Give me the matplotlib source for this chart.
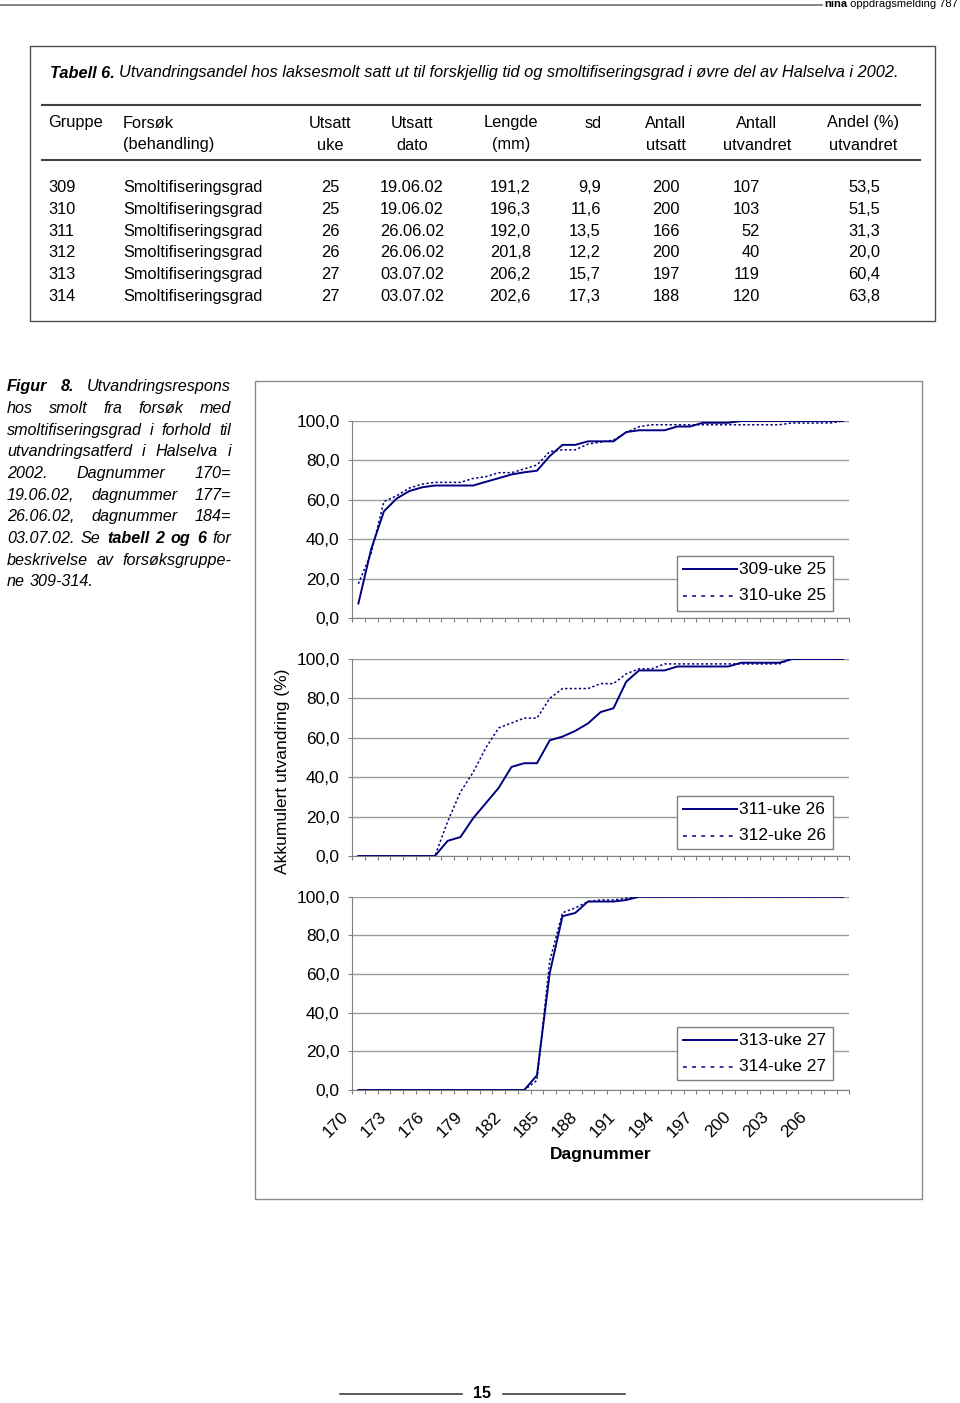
import matplotlib
matplotlib.use("Agg")
import matplotlib.pyplot as plt
import matplotlib.transforms as mtransforms
from matplotlib.patches import Rectangle
from matplotlib.lines import Line2D

plt.rcParams['font.family'] = ['Liberation Sans', 'DejaVu Sans']

W, H = 960, 1403

# ---------------------------------------------------------------
# table 6
# ---------------------------------------------------------------
TITLE_BOLD = "Tabell 6."
TITLE_REST = ("Utvandringsandel hos laksesmolt satt ut til forskjellig tid og "
              "smoltifiseringsgrad i øvre del av Halselva i 2002.")

HEAD_1 = ["Gruppe", "Forsøk", "Utsatt", "Utsatt", "Lengde", "sd", "Antall", "Antall", "Andel (%)"]
HEAD_2 = ["", "(behandling)", "uke", "dato", "(mm)", "", "utsatt", "utvandret", "utvandret"]

GRUPPE = ["309", "310", "311", "312", "313", "314"]
FORSOK = ["Smoltifiseringsgrad"] * 6
UKE = ["25", "25", "26", "26", "27", "27"]
DATO = ["19.06.02", "19.06.02", "26.06.02", "26.06.02", "03.07.02", "03.07.02"]
LENGDE = ["191,2", "196,3", "192,0", "201,8", "206,2", "202,6"]
SD = ["9,9", "11,6", "13,5", "12,2", "15,7", "17,3"]
ANT_UTSATT = ["200", "200", "166", "200", "197", "188"]
ANT_UTVANDRET = ["107", "103", "52", "40", "119", "120"]
ANDEL = ["53,5", "51,5", "31,3", "20,0", "60,4", "63,8"]

# ---------------------------------------------------------------
# figure 8 - cumulative migration (%) per day number
# ---------------------------------------------------------------
DAYS = [170, 171, 172, 173, 174, 175, 176, 177, 178, 179, 180, 181, 182,
        183, 184, 185, 186, 187, 188, 189, 190, 191, 192, 193, 194, 195,
        196, 197, 198, 199, 200, 201, 202, 203, 204, 205, 206, 207, 208]

G309 = [7.5, 35.0, 54.2, 60.7, 64.5, 66.4, 67.3, 67.3, 67.3, 67.3, 69.2, 71.0, 72.9,
        74.0, 74.8, 82.2, 87.9, 87.9, 89.7, 89.7, 89.7, 94.4, 95.3, 95.3, 95.3, 97.2,
        97.2, 99.1, 99.1, 99.1, 100, 100, 100, 100, 100, 100, 100, 100, 100]
G310 = [17.5, 33.0, 59.2, 62.1, 66.0, 68.0, 68.9, 68.9, 68.9, 70.9, 71.8, 73.8, 73.8,
        75.7, 77.7, 84.5, 85.4, 85.4, 88.3, 89.3, 90.3, 94.2, 97.1, 98.1, 98.1, 98.1,
        98.1, 98.1, 98.1, 98.1, 98.1, 98.1, 98.1, 98.1, 99.0, 99.0, 99.0, 99.0, 100]
G311 = [0, 0, 0, 0, 0, 0, 0, 7.7, 9.6, 19.2, 26.9, 34.6, 45.2,
        47.1, 47.1, 58.7, 60.6, 63.5, 67.3, 73.1, 75.0, 88.5, 94.2, 94.2, 94.2, 96.2,
        96.2, 96.2, 96.2, 96.2, 98.1, 98.1, 98.1, 98.1, 100, 100, 100, 100, 100]
G312 = [0, 0, 0, 0, 0, 0, 0, 17.5, 32.5, 42.5, 55.0, 65.0, 67.5,
        70.0, 70.0, 80.0, 85.0, 85.0, 85.0, 87.5, 87.5, 92.5, 95.0, 95.0, 97.5, 97.5,
        97.5, 97.5, 97.5, 97.5, 97.5, 97.5, 97.5, 97.5, 100, 100, 100, 100, 100]
G313 = [0, 0, 0, 0, 0, 0, 0, 0, 0, 0, 0, 0, 0,
        0, 7.6, 60.5, 89.9, 91.6, 97.5, 97.5, 97.5, 98.3, 100, 100, 100, 100,
        100, 100, 100, 100, 100, 100, 100, 100, 100, 100, 100, 100, 100]
G314 = [0, 0, 0, 0, 0, 0, 0, 0, 0, 0, 0, 0, 0,
        0, 5.0, 66.7, 91.7, 94.2, 97.5, 98.3, 98.3, 99.2, 100, 100, 100, 100,
        100, 100, 100, 100, 100, 100, 100, 100, 100, 100, 100, 100, 100]

LABELS_TOP = ["309-uke 25", "310-uke 25"]
LABELS_MID = ["311-uke 26", "312-uke 26"]
LABELS_BOT = ["313-uke 27", "314-uke 27"]

YTICKS = [0, 20, 40, 60, 80, 100]
YTICK_LABELS = ["0,0", "20,0", "40,0", "60,0", "80,0", "100,0"]
XLABEL_STEP = 3

CAPTION = [
    [("Figur", 1), ("8.", 1), ("Utvandringsrespons", 0)],
    [("hos", 0), ("smolt", 0), ("fra", 0), ("forsøk", 0), ("med", 0)],
    [("smoltifiseringsgrad", 0), ("i", 0), ("forhold", 0), ("til", 0)],
    [("utvandringsatferd", 0), ("i", 0), ("Halselva", 0), ("i", 0)],
    [("2002.", 0), ("Dagnummer", 0), ("170=", 0)],
    [("19.06.02,", 0), ("dagnummer", 0), ("177=", 0)],
    [("26.06.02,", 0), ("dagnummer", 0), ("184=", 0)],
    [("03.07.02.", 0), ("Se", 0), ("tabell", 1), ("2", 1), ("og", 1), ("6", 1), ("for", 0)],
    [("beskrivelse", 0), ("av", 0), ("forsøksgruppe-", 0)],
    [("ne", 0), ("309-314.", 0)],
]

# ---------------------------------------------------------------
fig = plt.figure(figsize=(W / 100, H / 100), dpi=100)
renderer = fig.canvas.get_renderer()


def fx(x):
    return x / W


def fy(y):
    return 1 - y / H


def put(x, y, s, **kw):
    kw.setdefault('va', 'center')
    return fig.text(fx(x), fy(y), s, **kw)


def width_of(t):
    return t.get_window_extent(renderer).width


# page header / footer
fig.add_artist(Line2D([fx(0), fx(822)], [fy(5), fy(5)], color='#707070', lw=1.2))
t = put(958, 4, " oppdragsmelding 787", ha='right', fontsize=8)
put(958 - width_of(t), 4, "nina", ha='right', fontsize=8, weight='bold')
fig.add_artist(Line2D([fx(340), fx(462)], [fy(1394), fy(1394)], color='#404040', lw=1.2))
fig.add_artist(Line2D([fx(503), fx(625)], [fy(1394), fy(1394)], color='#404040', lw=1.2))
put(482, 1394, "15", ha='center', fontsize=11.5, weight='bold')

# ---- table ----
TS = 11.8
fig.add_artist(Rectangle((fx(30), fy(321)), (935 - 30) / W, (321 - 46) / H,
                         transform=fig.transFigure, fill=False, ec='#505050', lw=1))
t = put(50, 73, TITLE_BOLD, fontsize=TS, style='italic', weight='bold')
put(50 + width_of(t) + 4, 73, TITLE_REST, fontsize=TS, style='italic')
for yy in (104.5, 160):
    fig.add_artist(Line2D([fx(42), fx(920)], [fy(yy), fy(yy)], color='#404040', lw=1.5))

head_pos = [(48, 'left'), (123, 'left'), (330, 'center'), (412, 'center'), (511, 'center'),
            (602, 'right'), (666, 'center'), (757, 'center'), (863, 'center')]
for (hx, ha), h1, h2 in zip(head_pos, HEAD_1, HEAD_2):
    put(hx, 123, h1, ha=ha, fontsize=TS)
    put(hx, 145, h2, ha=ha, fontsize=TS)

cols = [(GRUPPE, 48, 'left'), (FORSOK, 123, 'left'), (UKE, 330, 'center'),
        (DATO, 412, 'center'), (LENGDE, 531, 'right'), (SD, 601, 'right'),
        (ANT_UTSATT, 680, 'right'), (ANT_UTVANDRET, 760, 'right'), (ANDEL, 880, 'right')]
row_y = [187.7, 209.4, 231.1, 252.8, 274.5, 296.2]
for vals, cx, ha in cols:
    for v, ry in zip(vals, row_y):
        put(cx, ry, v, ha=ha, fontsize=TS)

# ---- caption (justified) ----
CS = 11.6
L, R = 7, 231
for k, words in enumerate(CAPTION):
    yy = 386.7 + k * 21.67
    arts = [put(L, yy, w, ha='left', fontsize=CS, style='italic',
                weight='bold' if b else 'normal') for w, b in words]
    ws = [width_of(a) for a in arts]
    if k == len(CAPTION) - 1:
        gap = CS * 1.389 * 0.3
    else:
        gap = (R - L - sum(ws)) / (len(arts) - 1)
    xx = L
    for a, wd in zip(arts, ws):
        a.set_x(fx(xx))
        xx += wd + gap

# ---- chart box (behind the axes) ----
fig.add_artist(Rectangle((fx(255), fy(1199)), (922 - 255) / W, (1199 - 381) / H,
                         transform=fig.transFigure, fc='white', ec='#8a8a8a', lw=1,
                         zorder=-5))

FS = 12.5
NAVY = '#000080'
AX_L, AX_R = 352, 849.5
panels = [
    (421.0, 618.3, G309, G310, LABELS_TOP, 556, 611),
    (659.0, 856.0, G311, G312, LABELS_MID, 796, 849),
    (896.7, 1090.0, G313, G314, LABELS_BOT, 1027, 1080),
]
xs = list(range(len(DAYS)))
for n, (top, bot, solid, dotted, labels, lt, lb) in enumerate(panels):
    ax = fig.add_axes([fx(AX_L), fy(bot), (AX_R - AX_L) / W, (bot - top) / H])
    ax.set_zorder(0)
    ax.patch.set_alpha(0)
    ax.plot(xs, solid, color=NAVY, lw=1.4)
    ax.plot(xs, dotted, color=NAVY, lw=1.1, ls=(0, (1.5, 1.5)))
    ax.set_xlim(-0.5, len(DAYS) - 0.5)
    ax.set_ylim(0, 100)
    ax.set_yticks(YTICKS)
    ax.set_yticklabels(YTICK_LABELS, fontsize=FS)
    ax.set_xticks([i - 0.5 for i in range(len(DAYS) + 1)])
    ax.set_xticklabels([])
    ax.grid(axis='y', color='#9a9a9a', lw=1)
    ax.set_axisbelow(True)
    for s in ('top', 'right'):
        ax.spines[s].set_visible(False)
    for s in ('left', 'bottom'):
        ax.spines[s].set_color('#808080')
    ax.tick_params(axis='both', direction='out', length=3, color='#808080')
    ax.tick_params(axis='y', pad=6)

    # legend box on top of the axes
    fig.add_artist(Rectangle((fx(677), fy(lb)), (833 - 677) / W, (lb - lt) / H,
                             transform=fig.transFigure, fc='white', ec='#808080', lw=1,
                             zorder=5))
    for j, lab in enumerate(labels):
        ry = lt + 13.3 + j * 26.3
        if j == 0:
            fig.add_artist(Line2D([fx(683), fx(737)], [fy(ry), fy(ry)], color=NAVY,
                                  lw=1.4, zorder=6))
        else:
            fig.add_artist(Line2D([fx(683), fx(737)], [fy(ry), fy(ry)], color=NAVY,
                                  lw=1.1, ls=(0, (2.5, 3.5)), zorder=6))
        put(739, ry, lab, ha='left', fontsize=FS, zorder=6)

    if n == len(panels) - 1:
        trans = mtransforms.blended_transform_factory(ax.transData, ax.transAxes)
        for i in range(0, len(DAYS), XLABEL_STEP):
            ax.text(i - 1.0, -0.124, str(DAYS[i]), transform=trans, rotation=45,
                    rotation_mode='anchor', ha='right', va='center', fontsize=FS)

put(601, 1155, "Dagnummer", ha='center', fontsize=FS, weight='bold')
put(282, 771, "Akkumulert utvandring (%)", ha='center', rotation=90, fontsize=FS)

fig.savefig("out.png", dpi=100)
